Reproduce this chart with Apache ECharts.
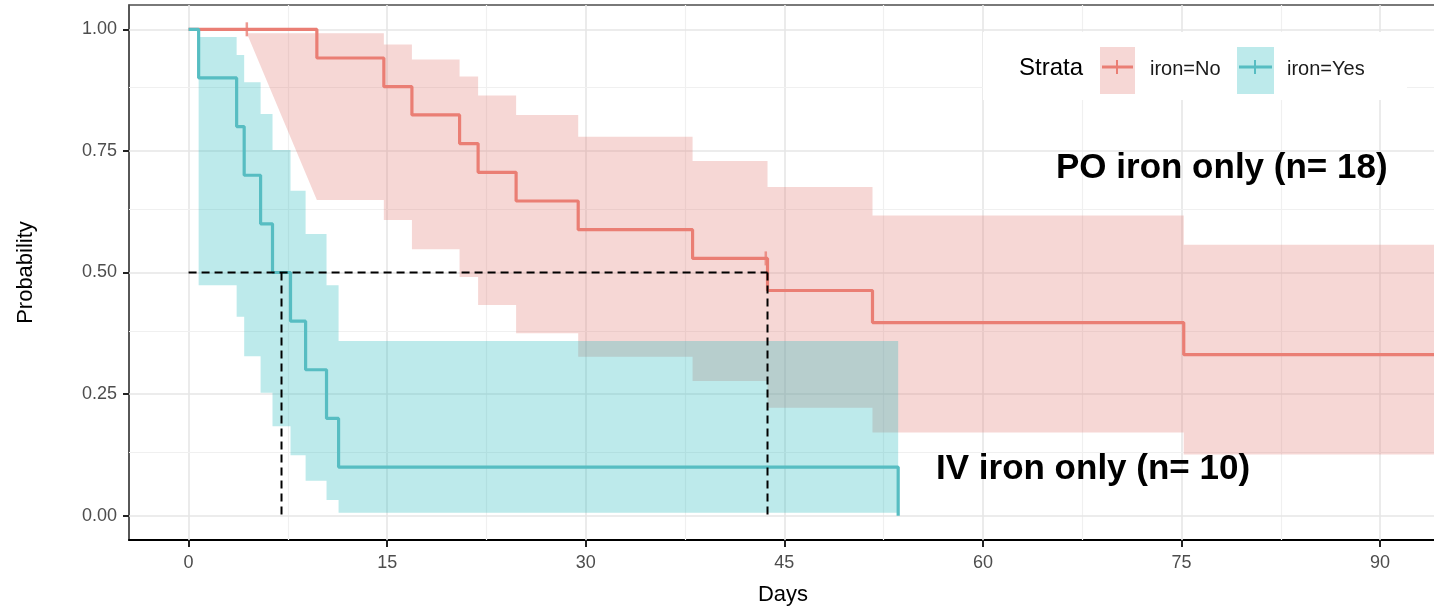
<!DOCTYPE html>
<html>
<head>
<meta charset="utf-8">
<script src="https://cdn.jsdelivr.net/npm/echarts@6/dist/echarts.min.js"></script>
<style>
  html, body { margin: 0; padding: 0; background: #fff; }
  #km { width: 1434px; height: 608px; }
</style>
</head>
<body>
<div id="km"></div>
<script>
// Kaplan-Meier estimates
var redTime = [0, 9.69, 14.75, 16.87, 20.47, 21.87, 24.74, 29.43, 38.07, 43.73, 51.66, 75.17, 94.3];
var redSurv = [1, 0.941, 0.882, 0.824, 0.765, 0.706, 0.647, 0.588, 0.529, 0.463, 0.397, 0.331, 0.331];
var redCensorTime = [4.4, 43.6];
var redCensorSurv = [1, 0.529];

var tealTime = [0, 0.76, 3.63, 4.2, 5.44, 6.34, 7.7, 8.84, 10.42, 11.33, 53.6];
var tealSurv = [1, 0.9, 0.8, 0.7, 0.6, 0.5, 0.4, 0.3, 0.2, 0.1, 0];

// confidence bands (first red segment is a straight join, the rest are steps)
var redBandTime = [4.4, 9.69, 14.75, 16.87, 20.47, 21.87, 24.74, 29.43, 38.07, 43.73, 51.66, 75.17, 94.3];
var redBandLow  = [0.992, 0.649, 0.608, 0.548, 0.491, 0.433, 0.375, 0.327, 0.277, 0.222, 0.171, 0.126, 0.126];
var redBandHigh = [0.992, 0.992, 0.969, 0.938, 0.903, 0.864, 0.824, 0.779, 0.729, 0.676, 0.617, 0.557, 0.557];

var tealBandTime = [0.76, 3.63, 4.2, 5.44, 6.34, 7.7, 8.84, 10.42, 11.33, 53.6];
var tealBandLow  = [0.474, 0.409, 0.328, 0.253, 0.184, 0.124, 0.072, 0.032, 0.006, 0.006];
var tealBandHigh = [0.984, 0.947, 0.891, 0.826, 0.752, 0.668, 0.579, 0.474, 0.359, 0.359];

// median survival (dashed guides)
var medianTimes = [7.02, 43.73];

var xTicks = [0, 15, 30, 45, 60, 75, 90];
var xMinor = [7.5, 22.5, 37.5, 52.5, 67.5, 82.5];
var yTicks = [0, 0.25, 0.5, 0.75, 1];
var yMinor = [0.125, 0.375, 0.625, 0.875];

var RED = '#EA7E74', TEAL = '#57BDC2';
var RED_FILL = 'rgba(225,122,115,0.3)', TEAL_FILL = 'rgba(38,185,188,0.3)';
var FONT = '"Liberation Sans", Arial, sans-serif';

function zipPts(t, s) {
    var out = [];
    for (var i = 0; i < t.length; i++) out.push([t[i], s[i]]);
    return out;
}

// polygon for a stepped ribbon; linearFirst joins the first two points directly
function bandPolygon(t, lo, hi, linearFirst) {
    var top = [], bot = [];
    for (var i = 0; i < t.length; i++) {
        if (i > 0 && !(linearFirst && i === 1)) {
            top.push([t[i], hi[i - 1]]);
            bot.push([t[i], lo[i - 1]]);
        }
        top.push([t[i], hi[i]]);
        bot.push([t[i], lo[i]]);
    }
    return top.concat(bot.reverse());
}

function bandSeries(poly, fill, z) {
    return {
        type: 'custom',
        coordinateSystem: 'cartesian2d',
        clip: true,
        silent: true,
        z: z,
        data: [[poly[0][0], poly[0][1]]],
        renderItem: function (params, api) {
            var pts = poly.map(function (p) { return api.coord(p); });
            return { type: 'polygon', shape: { points: pts }, style: { fill: fill } };
        }
    };
}

var major = { color: '#E6E6E6', width: 1.6, type: 'solid' };
var minor = { color: '#F0F0F0', width: 1.2, type: 'solid' };
var grid_lines = [];
xTicks.forEach(function (v) { grid_lines.push({ xAxis: v, lineStyle: major }); });
xMinor.forEach(function (v) { grid_lines.push({ xAxis: v, lineStyle: minor }); });
yTicks.forEach(function (v) { grid_lines.push({ yAxis: v, lineStyle: major }); });
yMinor.forEach(function (v) { grid_lines.push({ yAxis: v, lineStyle: minor }); });

var series = [];
series.push({
    type: 'line', data: [], z: 1, silent: true,
    markLine: { silent: true, z: 1, symbol: 'none', label: { show: false }, animation: false,
        lineStyle: { type: 'solid' }, data: grid_lines }
});
series.push(bandSeries(bandPolygon(redBandTime, redBandLow, redBandHigh, true), RED_FILL, 10));
series.push(bandSeries(bandPolygon(tealBandTime, tealBandLow, tealBandHigh, false), TEAL_FILL, 11));
series.push({
    name: 'iron=No', type: 'line', step: 'end', z: 12, showSymbol: false, silent: true,
    lineStyle: { color: RED, width: 3.2 }, data: zipPts(redTime, redSurv)
});
series.push({
    name: 'iron=Yes', type: 'line', step: 'end', z: 13, showSymbol: false, silent: true,
    lineStyle: { color: TEAL, width: 3.2 }, data: zipPts(tealTime, tealSurv)
});
series.push({
    type: 'scatter', z: 14, silent: true, symbol: 'rect', symbolSize: [2.5, 14],
    itemStyle: { color: RED }, data: zipPts(redCensorTime, redCensorSurv)
});
// median guides
var dash = { color: '#000', width: 2, type: [8, 5] };
series.push({
    type: 'line', z: 15, silent: true, showSymbol: false, lineStyle: dash,
    data: [[0, 0.5], [Math.max.apply(null, medianTimes), 0.5]]
});
medianTimes.forEach(function (m) {
    series.push({
        type: 'line', z: 15, silent: true, showSymbol: false, lineStyle: dash,
        data: [[m, 0.5], [m, 0]]
    });
});

var chart = echarts.init(document.getElementById('km'));
var option = {
    animation: false,
    backgroundColor: '#fff',
    grid: { left: 129, right: -3, top: 5, bottom: 68, outerBoundsMode: 'none', containLabel: false,
        show: true, borderColor: '#4D4D4D', borderWidth: 1.5 },
    xAxis: {
        type: 'value', min: -4.5, max: 94.3,
        name: 'Days', nameLocation: 'middle', nameGap: 44,
        nameTextStyle: { fontSize: 22, color: '#000', fontFamily: FONT },
        axisLine: { onZero: false, lineStyle: { color: '#000', width: 2 } },
        axisTick: { show: true, length: 7, customValues: xTicks, lineStyle: { color: '#222', width: 2 } },
        axisLabel: { customValues: xTicks, fontSize: 18, margin: 14, color: '#4D4D4D', fontFamily: FONT },
        splitLine: { show: false }
    },
    yAxis: {
        type: 'value', min: -0.05, max: 1.05,
        name: 'Probability', nameLocation: 'middle', nameGap: 92, nameRotate: 90,
        nameTextStyle: { fontSize: 22, color: '#000', fontFamily: FONT },
        axisLine: { show: true, onZero: false, lineStyle: { color: '#4D4D4D', width: 1.5 } },
        axisTick: { show: true, length: 6, customValues: yTicks, lineStyle: { color: '#222', width: 2 } },
        axisLabel: {
            customValues: yTicks, fontSize: 18, margin: 12, color: '#4D4D4D', fontFamily: FONT,
            formatter: function (v) { return v.toFixed(2); }
        },
        splitLine: { show: false }
    },
    graphic: [
        // legend box
        { type: 'rect', z: 100, shape: { x: 983, y: 32, width: 424, height: 68 }, style: { fill: '#fff' } },
        { type: 'text', z: 101, style: { x: 1019, y: 68, text: 'Strata', font: '24px ' + FONT, fill: '#000', verticalAlign: 'middle', textVerticalAlign: 'middle' } },
        { type: 'rect', z: 101, shape: { x: 1100, y: 47, width: 35, height: 47 }, style: { fill: RED_FILL } },
        { type: 'line', z: 102, shape: { x1: 1102, y1: 67, x2: 1133, y2: 67 }, style: { stroke: RED, lineWidth: 3 } },
        { type: 'line', z: 102, shape: { x1: 1117, y1: 60, x2: 1117, y2: 74 }, style: { stroke: RED, lineWidth: 2 } },
        { type: 'text', z: 101, style: { x: 1150, y: 69, text: 'iron=No', font: '20px ' + FONT, fill: '#1A1A1A', verticalAlign: 'middle', textVerticalAlign: 'middle' } },
        { type: 'rect', z: 101, shape: { x: 1237, y: 47, width: 37, height: 47 }, style: { fill: TEAL_FILL } },
        { type: 'line', z: 102, shape: { x1: 1239, y1: 67, x2: 1272, y2: 67 }, style: { stroke: TEAL, lineWidth: 3 } },
        { type: 'line', z: 102, shape: { x1: 1255, y1: 60, x2: 1255, y2: 74 }, style: { stroke: TEAL, lineWidth: 2 } },
        { type: 'text', z: 101, style: { x: 1287, y: 69, text: 'iron=Yes', font: '20px ' + FONT, fill: '#1A1A1A', verticalAlign: 'middle', textVerticalAlign: 'middle' } },
        // annotations
        { type: 'text', z: 103, style: { x: 1056, y: 168, text: 'PO iron only (n= 18)', font: 'bold 35px ' + FONT, fill: '#000', verticalAlign: 'middle', textVerticalAlign: 'middle' } },
        { type: 'text', z: 103, style: { x: 936, y: 469, text: 'IV iron only (n= 10)', font: 'bold 35px ' + FONT, fill: '#000', verticalAlign: 'middle', textVerticalAlign: 'middle' } }
    ],
    series: series
};
chart.setOption(option);
</script>
</body>
</html>
